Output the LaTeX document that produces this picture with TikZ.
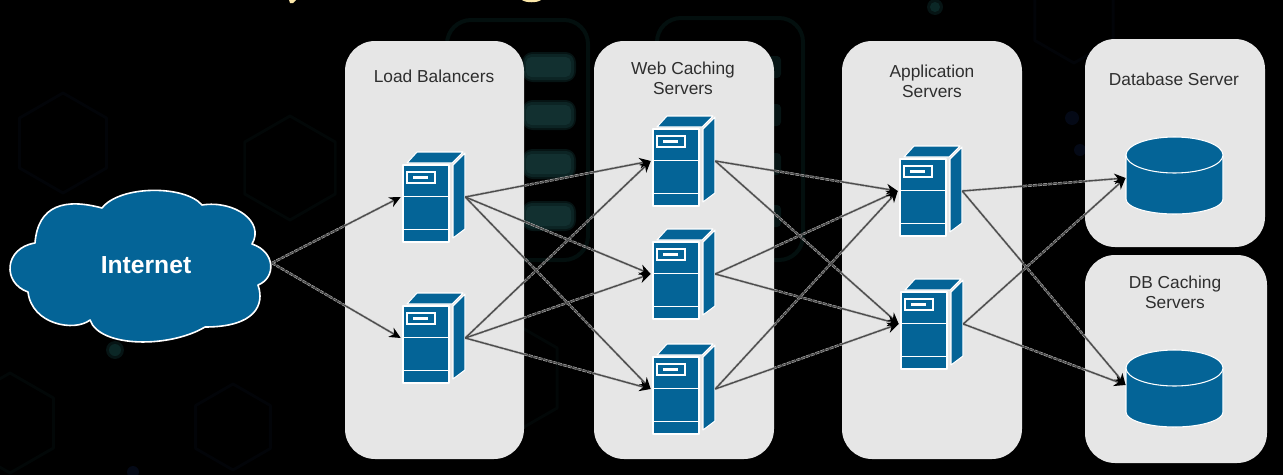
\documentclass[tikz,border=0pt]{standalone}
\usepackage{fontspec}
\setmainfont{Liberation Sans}
\usetikzlibrary{arrows.meta}
\definecolor{ibm}{HTML}{046497}
\definecolor{panelgrey}{HTML}{E6E6E6}
\definecolor{labelink}{HTML}{2E2E2E}
\definecolor{titlegold}{HTML}{FBE7A8}
\definecolor{ghostteal}{HTML}{030F0E}
\definecolor{ghostbara}{HTML}{061414}
\definecolor{ghostbarb}{HTML}{0C2424}
\definecolor{ghostbarc}{HTML}{123030}
\definecolor{ghosthex}{HTML}{020707}
\definecolor{ghostblue}{HTML}{020408}
\definecolor{ghostdot}{HTML}{0B2726}
\definecolor{ghostbluedot}{HTML}{040916}
\tikzset{
  panel/.style={fill=panelgrey,draw=none,rounded corners=22.5pt},
  panellabel/.style={font=\fontsize{13}{15}\selectfont,text=labelink,align=center,inner sep=0pt},
  port/.style={rectangle,inner sep=0pt,minimum width=48pt,minimum height=1pt,draw=none,fill=none},
  dbport/.style={rectangle,inner sep=0pt,minimum width=73pt,minimum height=1pt,draw=none,fill=none},
  blueface/.style={fill=ibm,draw=white,line width=.8pt,line join=round},
  whiterule/.style={draw=white,line width=.65pt},
  halo/.style={draw=white!72!black,line width=1.8pt,dash pattern=on 3pt off .8pt,shorten >=6pt},
  conn/.style={draw=black!70,line width=1pt,-{Stealth[length=8.5pt,width=8pt,color=black]}},
  ghosthexa/.style={draw=#1,line width=2.2pt,line join=round},
}
% a server tower whose front face has its top left corner at (#2,#3)
\newcommand{\towerat}[3]{%
  \begin{scope}[shift={(#2,#3)}]
    \path[blueface] (4,-2) -- (14,-13) -- (60,-13) -- (49,-2) -- cycle;
    \path[blueface] (50,0) -- (62,-12) -- (62,64) -- (50,73) -- cycle;
    \path[blueface] (0,0) rectangle (46,77);
    \draw[whiterule] (0,31) -- (46,31);
    \draw[whiterule] (0,64) -- (46,64);
    \path[fill=ibm,draw=white,line width=.8pt] (4,7) rectangle (32,18);
    \path[fill=white] (10,11) rectangle (25,14);
    \node[port] (#1) at (30,32) {};
  \end{scope}}
% a database cylinder, ellipse centre at (#2,#3), port drop #4
\newcommand{\drumat}[4]{%
  \begin{scope}[shift={(#2,#3)}]
    \path[blueface] (-48.5,0) -- (-48.5,44) arc[x radius=48.5,y radius=15,start angle=180,end angle=0] -- (48.5,0) -- cycle;
    \path[blueface] (0,0) ellipse[x radius=48.5,y radius=18];
    \node[dbport] (#1) at (0,#4) {};
  \end{scope}}
\newcommand{\ghosthexagon}[4]{%
  \draw[ghosthexa=#4] (#1,#2-#3) -- (#1+.87*#3,#2-.5*#3) -- (#1+.87*#3,#2+.5*#3) -- (#1,#2+#3) -- (#1-.87*#3,#2+.5*#3) -- (#1-.87*#3,#2-.5*#3) -- cycle;}
\begin{document}
\begin{tikzpicture}[x=.75pt,y=-.75pt]
\useasboundingbox (0,0) rectangle (1283,475);
\fill[black] (0,0) rectangle (1283,475);
% faint background artwork
\ghosthexagon{63}{143}{50}{ghostblue}
\ghosthexagon{290}{168}{52}{ghosthex}
\ghosthexagon{233}{427}{43}{ghostblue}
\ghosthexagon{10}{423}{50}{ghosthex}
\ghosthexagon{1074}{18}{45}{ghostblue}
\ghosthexagon{505}{378}{60}{ghosthex}
\draw[ghostteal,line width=3pt,rounded corners=18pt] (447,20) rectangle (588,260);
\draw[ghostteal,line width=3pt,rounded corners=18pt] (657,18) rectangle (803,260);
\foreach \barY in {56,104,153,205}{
  \fill[ghostbara,rounded corners=8pt] (522,\barY-4) rectangle (576,\barY+26);
  \fill[ghostbarb,rounded corners=6pt] (524,\barY-2) rectangle (574,\barY+24);
  \fill[ghostbarc,rounded corners=4pt] (526,\barY+1) rectangle (571,\barY+21);
  \fill[ghostbara,rounded corners=3pt] (700,\barY) rectangle (781,\barY+22);
}
\fill[ghostbara] (115,350) circle[radius=9];
\fill[ghostdot] (115,350) circle[radius=6];
\fill[ghostbara] (935,7) circle[radius=8];
\fill[ghostdot] (935,7) circle[radius=5];
\fill[ghostbluedot] (1072,118) circle[radius=7];
\fill[ghostbluedot] (1080,150) circle[radius=6];
\fill[ghostbluedot] (133,472) circle[radius=6];
% clipped title descenders
\fill[titlegold] (289,0) -- (296,0) -- (293,3) -- (290,3) -- cycle;
\fill[titlegold] (522,0) .. controls (526,3) and (537,3) .. (541,0) -- cycle;
% panels
\path[panel] (345,41) rectangle (524,459);
\path[panel] (594,41) rectangle (774,459);
\path[panel] (842,41) rectangle (1022,459);
\path[panel] (1085,39) rectangle (1265,247);
\path[panel] (1085,255) rectangle (1267,463);
\node[panellabel] (lbl-lb) at (434,76) {Load Balancers};
\node[panellabel] (lbl-web) at (683,78) {Web Caching\\Servers};
\node[panellabel] (lbl-app) at (932,81) {Application\\Servers};
\node[panellabel] (lbl-db) at (1174,79) {Database Server};
\node[panellabel] (lbl-dbc) at (1175,292) {DB Caching\\Servers};
% cloud
\path[fill=ibm,draw=white,line width=1.2pt,line join=round]
  (35,243) .. controls (4,248) and (2,283) .. (28,292)
  .. controls (32,325) and (75,332) .. (90,320)
  .. controls (100,348) and (170,348) .. (205,327)
  .. controls (255,327) and (265,305) .. (258,285)
  .. controls (276,278) and (276,252) .. (252,244)
  .. controls (265,222) and (235,200) .. (202,205)
  .. controls (185,185) and (120,185) .. (102,208)
  .. controls (65,198) and (38,205) .. (35,243) -- cycle;
\node[font=\fontsize{18.5}{20}\selectfont\bfseries,text=white,inner sep=0pt] (internet) at (146,265) {Internet};
\coordinate (cloudport) at (272,263);
% equipment
\towerat{lba}{403}{165}
\towerat{lbb}{403}{306}
\towerat{weba}{653}{129}
\towerat{webb}{653}{242}
\towerat{webc}{653}{357}
\towerat{appa}{900}{159}
\towerat{appb}{901}{292}
\drumat{dba}{1174.5}{155}{23}
\drumat{dbb}{1174.5}{368}{17}
% connectors
\foreach \src/\dst in {lba/weba,lba/webb,lba/webc,lbb/weba,lbb/webb,lbb/webc,
  weba/appa,weba/appb,webb/appa,webb/appb,webc/appa,webc/appb,
  appa/dba,appa/dbb,appb/dba,appb/dbb}{
  \draw[halo] (\src.east) -- (\dst.west);
}
\draw[halo] (cloudport) -- (lba.west);
\draw[halo] (cloudport) -- (lbb.west);
\foreach \src/\dst in {lba/weba,lba/webb,lba/webc,lbb/weba,lbb/webb,lbb/webc,
  weba/appa,weba/appb,webb/appa,webb/appb,webc/appa,webc/appb,
  appa/dba,appa/dbb,appb/dba,appb/dbb}{
  \draw[conn] (\src.east) -- (\dst.west);
}
\draw[conn] (cloudport) -- (lba.west);
\draw[conn] (cloudport) -- (lbb.west);
\end{tikzpicture}
\end{document}
